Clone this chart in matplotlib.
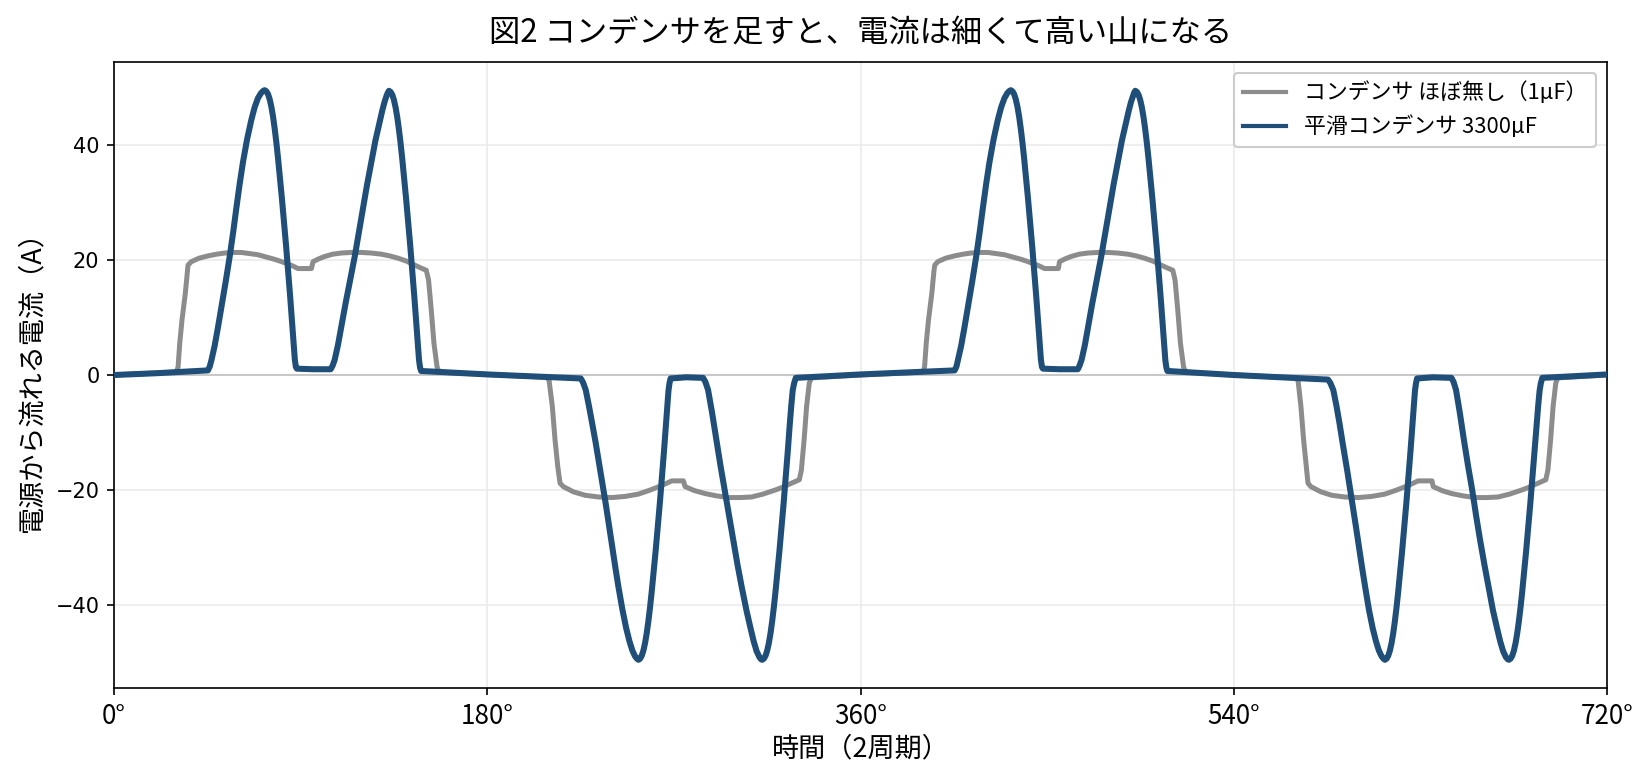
import matplotlib
matplotlib.use('Agg')
import matplotlib.pyplot as plt

plt.rcParams['font.family'] = ['Noto Sans CJK JP', 'DejaVu Sans']
plt.rcParams['axes.unicode_minus'] = True

# ------------------------- data -------------------------
# angle in degrees, current in A
# 1uF case: nearly square blocks with a small dip in the middle
deg_small = [0, 15, 29.6, 30.4, 30.9, 31.7, 32.8, 34.4, 35.4, 35.7, 37.3, 41.0, 45.3, 49.5, 53.4, 57.5,
             61.4, 65.5, 69.4, 73.5, 77.5, 80.8, 83.9, 86.5, 88.7, 95.2, 96.0, 98.8, 101.6, 105.5, 109.6,
             114.5, 119.3, 124.0, 128.9, 133.0, 137.0, 141.0, 145.0, 148.0, 150.6, 151.7, 153.0, 154.3,
             155.8, 156.8, 180, 208.5,
             209.8, 211.4, 212.7, 214.0, 215.1, 216.7, 221.5, 227.2, 233.5, 240.1, 246.5, 252.9, 258.5,
             264.2, 269.0, 274.6, 275.4, 280.0, 285.0, 290.5, 296.3, 302.0, 307.5, 313.0, 318.8, 322.5,
             325.5, 330.5, 331.5, 332.8, 334.0, 335.3, 336.3, 360, 389.6,
             390.4, 390.9, 391.7, 392.8, 394.4, 395.4, 395.8, 397.3, 401.0, 405.3, 409.5, 413.4, 417.5,
             421.4, 425.5, 429.4, 433.5, 437.5, 440.8, 443.9, 446.5, 448.8, 455.4, 456.0, 458.8, 461.6,
             465.5, 469.6, 474.5, 479.3, 484.0, 488.9, 493.0, 497.0, 501.0, 505.0, 508.0, 510.6, 511.7,
             513.0, 514.3, 515.8, 516.8, 540, 569.5,
             571.0, 572.4, 573.7, 575.0, 575.8, 577.2, 582.0, 587.2, 593.5, 600.1, 606.5, 612.9, 618.5,
             624.2, 628.9, 635.6, 636.2, 640.5, 645.0, 650.5, 656.3, 662.0, 667.5, 673.0, 678.8, 682.5,
             685.5, 690.5, 691.5, 692.8, 694.0, 695.3, 696.3, 720]
amp_small = [0.0, 0.25, 0.5, 0.8, 1.4, 5.5, 9.6, 14.2, 18.0, 19.1, 19.7, 20.3, 20.7, 21.0, 21.2, 21.3,
             21.3, 21.1, 20.9, 20.5, 20.1, 19.7, 19.3, 18.9, 18.5, 18.5, 19.7, 20.2, 20.6, 21.0, 21.2,
             21.3, 21.3, 21.2, 21.0, 20.7, 20.3, 19.8, 19.1, 18.6, 18.2, 16.5, 11.3, 5.5,
             1.4, 0.5, 0.1, -0.4,
             -0.9, -5.5, -11.3, -15.9, -18.8, -19.4, -20.3, -20.9, -21.2, -21.3, -21.1, -20.7, -20.0,
             -19.2, -18.4, -18.4, -19.4, -20.1, -20.6, -21.0, -21.3, -21.3, -21.2, -20.7, -20.0, -19.5,
             -19.0, -18.2, -16.5, -11.3, -5.5, -1.4, -0.5, 0.0, 0.5,
             0.8, 1.4, 5.5, 9.6, 14.2, 18.0, 19.1, 19.7, 20.3, 20.7, 21.0, 21.2, 21.3,
             21.3, 21.1, 20.9, 20.5, 20.1, 19.7, 19.3, 18.9, 18.5, 18.5, 19.7, 20.2, 20.6,
             21.0, 21.2, 21.3, 21.3, 21.2, 21.0, 20.7, 20.3, 19.8, 19.1, 18.6, 18.2, 16.5,
             11.3, 5.5, 1.4, 0.5, 0.0, -0.5,
             -0.9, -5.5, -11.3, -15.9, -18.8, -19.4, -20.3, -20.9, -21.2, -21.3, -21.1, -20.7, -20.0,
             -19.2, -18.4, -18.4, -19.4, -20.1, -20.6, -21.0, -21.3, -21.3, -21.2, -20.7, -20.0, -19.5,
             -19.0, -18.2, -16.5, -11.3, -5.5, -1.4, -0.5, 0.0]

# 3300uF case: two tall narrow humps per half cycle (one line of the list per hump)
deg_big = [0, 20,
           45.3, 46.2, 47.0, 48.5, 50.2, 52.0, 53.9, 55.8, 57.5, 59.0, 60.6, 62.2, 64.2, 66.2, 67.8, 69.4, 70.9, 72.0, 72.7, 73.5, 74.3, 75.1, 75.9, 76.7, 77.5, 78.3, 79.1, 80.0, 81.0, 82.0, 83.0, 84.0, 85.0, 85.9, 86.6, 87.2, 87.7, 88.2, 96.0,
           104.5, 105.4, 106.4, 108.0, 109.6, 111.6, 113.8, 116.1, 118.0, 120.0, 122.0, 124.1, 126.1, 128.1, 129.4, 130.5, 131.5, 132.1, 132.6, 133.4, 134.2, 135.0, 135.8, 136.6, 137.4, 138.2, 139.0, 139.9, 140.9, 141.9, 142.9, 143.9, 144.9, 145.8, 146.5, 147.1, 147.6, 148.1, 180,
           225.1, 226.2, 227.5, 229.0, 230.6, 232.3, 234.6, 237.1, 238.8, 240.3, 241.8, 243.3, 245.2, 247.0, 248.6, 250.0, 251.3, 252.2, 252.9, 253.7, 254.5, 255.3, 256.1, 256.9, 257.7, 258.5, 259.3, 260.2, 261.2, 262.2, 263.2, 264.2, 265.2, 266.1, 266.8, 267.4, 267.9, 268.4, 276,
           284.1, 285.2, 286.5, 288.4, 290.5, 292.5, 294.5, 296.6, 298.6, 300.7, 302.8, 305.0, 306.9, 308.5, 309.9, 311.2, 312.0, 312.6, 313.4, 314.2, 315.0, 315.8, 316.6, 317.4, 318.2, 319.0, 319.9, 320.9, 321.9, 322.9, 323.9, 324.9, 325.8, 326.6, 327.3, 328.0, 328.8, 360,
           405.4, 406.3, 407.0, 408.5, 410.2, 412.0, 413.9, 415.8, 417.5, 419.0, 420.6, 422.2, 424.2, 426.2, 427.8, 429.4, 430.8, 431.9, 432.5, 433.3, 434.1, 434.9, 435.7, 436.5, 437.3, 438.1, 438.9, 439.8, 440.8, 441.8, 442.8, 443.8, 444.8, 445.7, 446.4, 447.0, 447.5, 448.0, 456,
           464.8, 465.6, 466.6, 468.2, 469.8, 471.7, 473.9, 476.1, 478.0, 480.0, 482.0, 484.1, 486.1, 488.1, 489.4, 490.5, 491.5, 492.0, 492.5, 493.3, 494.1, 494.9, 495.7, 496.5, 497.3, 498.1, 498.9, 499.8, 500.8, 501.8, 502.8, 503.8, 504.8, 505.7, 506.4, 507.0, 507.5, 508.0, 540,
           585.5, 586.6, 588.0, 589.5, 591.0, 592.5, 594.8, 597.2, 598.9, 600.4, 601.9, 603.4, 605.2, 607.0, 608.6, 610.0, 611.3, 612.2, 612.9, 613.7, 614.5, 615.3, 616.1, 616.9, 617.7, 618.5, 619.3, 620.2, 621.2, 622.2, 623.2, 624.2, 625.2, 626.1, 626.8, 627.4, 627.9, 628.4, 636,
           645.0, 646.0, 647.2, 649.0, 651.0, 653.0, 655.0, 656.9, 658.8, 660.9, 663.0, 665.0, 666.9, 668.5, 669.9, 671.2, 672.1, 672.7, 673.5, 674.3, 675.1, 675.9, 676.7, 677.5, 678.3, 679.1, 680.0, 681.0, 682.0, 683.0, 684.0, 685.0, 686.0, 686.8, 687.5, 688.1, 688.8, 720]
amp_big = [0.0, 0.3,
           0.8, 1.5, 2.6, 5.0, 8.4, 12.2, 16.3, 20.6, 24.9, 29.0, 33.2, 37.0, 41.0, 44.3, 46.5, 48.1, 49.0, 49.4, 49.5, 49.3, 48.8, 47.9, 46.6, 44.9, 42.8, 40.4, 37.7, 34.4, 30.6, 26.6, 22.4, 18.0, 13.4, 9.0, 5.4, 2.7, 1.4, 1.1, 1.0,
           1.0, 1.6, 2.6, 5.2, 8.4, 12.3, 16.4, 20.6, 24.6, 28.8, 33.0, 37.0, 40.8, 44.0, 46.0, 47.5, 48.6, 49.1, 49.4, 49.2, 48.7, 47.8, 46.5, 44.8, 42.7, 40.3, 37.6, 34.3, 30.5, 26.5, 22.3, 17.9, 13.3, 8.9, 5.3, 2.6, 1.3, 0.7, 0.1,
           -0.6, -1.3, -2.6, -5.3, -8.4, -11.8, -16.8, -22.3, -26.3, -29.9, -33.5, -36.9, -40.8, -44.0, -46.3, -47.9, -48.9, -49.3, -49.5, -49.3, -48.8, -47.9, -46.6, -44.9, -42.8, -40.4, -37.7, -34.4, -30.6, -26.6, -22.4, -18.0, -13.4, -9.0, -5.4, -2.7, -1.4, -0.6, -0.4,
           -0.5, -1.2, -2.6, -6.5, -11.3, -15.8, -20.0, -24.5, -28.7, -33.0, -37.0, -40.9, -43.9, -46.3, -48.0, -49.0, -49.4, -49.5, -49.3, -48.8, -47.9, -46.6, -44.9, -42.8, -40.4, -37.7, -34.4, -30.6, -26.6, -22.4, -18.0, -13.4, -9.0, -5.4, -2.7, -1.4, -0.5, 0.1,
           0.8, 1.5, 2.6, 5.0, 8.4, 12.2, 16.3, 20.6, 24.9, 29.0, 33.2, 37.0, 41.0, 44.3, 46.5, 48.1, 49.0, 49.4, 49.5, 49.3, 48.8, 47.9, 46.6, 44.9, 42.8, 40.4, 37.7, 34.4, 30.6, 26.6, 22.4, 18.0, 13.4, 9.0, 5.4, 2.7, 1.4, 1.1, 1.0,
           1.0, 1.6, 2.6, 5.2, 8.4, 12.3, 16.4, 20.6, 24.6, 28.8, 33.0, 37.0, 40.8, 44.0, 46.0, 47.5, 48.6, 49.1, 49.4, 49.2, 48.7, 47.8, 46.5, 44.8, 42.7, 40.3, 37.6, 34.3, 30.5, 26.5, 22.3, 17.9, 13.3, 8.9, 5.3, 2.6, 1.3, 0.7, 0.0,
           -0.8, -1.4, -2.6, -5.3, -8.4, -11.8, -16.8, -22.3, -26.3, -29.9, -33.5, -36.9, -40.8, -44.0, -46.3, -47.9, -48.9, -49.3, -49.5, -49.3, -48.8, -47.9, -46.6, -44.9, -42.8, -40.4, -37.7, -34.4, -30.6, -26.6, -22.4, -18.0, -13.4, -9.0, -5.4, -2.7, -1.4, -0.6, -0.4,
           -0.5, -1.2, -2.6, -6.5, -11.3, -15.8, -20.0, -24.5, -28.7, -33.0, -37.0, -40.9, -43.9, -46.3, -48.0, -49.0, -49.4, -49.5, -49.3, -48.8, -47.9, -46.6, -44.9, -42.8, -40.4, -37.7, -34.4, -30.6, -26.6, -22.4, -18.0, -13.4, -9.0, -5.4, -2.7, -1.4, -0.5, 0.1]

x_ticks = [0, 180, 360, 540, 720]
x_ticklabels = ['0°', '180°', '360°', '540°', '720°']
y_ticks = [-40, -20, 0, 20, 40]

label_small = 'コンデンサ ほぼ無し（1µF）'
label_big = '平滑コンデンサ 3300µF'

# ------------------------- plot -------------------------
fig, ax = plt.subplots(figsize=(1648 / 150, 781 / 150), dpi=150)
fig.subplots_adjust(left=114 / 1648, right=1607 / 1648, top=1 - 62 / 781, bottom=1 - 688 / 781)

ax.grid(True, color='#ebebeb', linewidth=0.8)
ax.set_axisbelow(True)
ax.axhline(0, color='#c8c8c8', linewidth=1.0, zorder=1)

ax.plot(deg_small, amp_small, color='#8c8c8c', linewidth=2.4, label=label_small, zorder=2)
ax.plot(deg_big, amp_big, color='#1f4e79', linewidth=2.9, label=label_big, zorder=3)

ax.set_xlim(0, 720)
ax.set_ylim(-54.4, 54.4)
ax.set_xticks(x_ticks)
ax.set_xticklabels(x_ticklabels, fontsize=12.5)
ax.set_yticks(y_ticks)
# y tick labels come out in DejaVu in the reference
for lab in ax.get_yticklabels():
    lab.set_fontfamily('DejaVu Sans')
    lab.set_fontsize(10)

ax.set_xlabel('時間（2周期）', fontsize=13, labelpad=3)
ax.set_ylabel('電源から流れる電流（A）', fontsize=13, labelpad=5)
ax.set_title('図2 コンデンサを足すと、電流は細くて高い山になる', fontsize=15, pad=10)

leg = ax.legend(loc='upper right', fontsize=10.5, framealpha=1.0, edgecolor='#cccccc')
for h in leg.get_lines():
    h.set_linewidth(2.0)

fig.savefig('out.png', dpi=150)
